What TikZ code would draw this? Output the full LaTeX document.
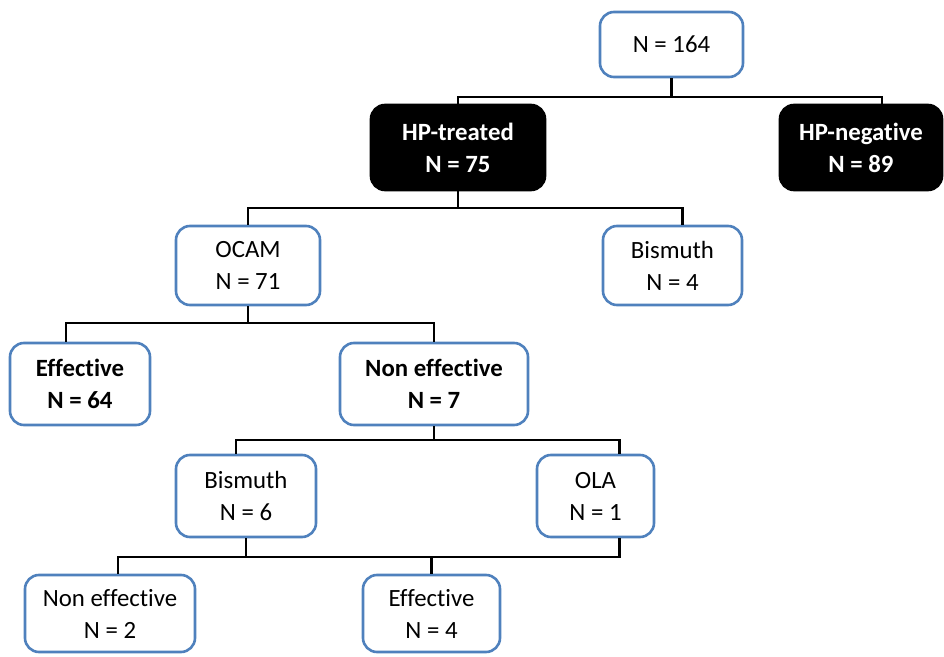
\documentclass[tikz,border=0pt]{standalone}
\usepackage{fontspec}
\setmainfont{Carlito}[Ligatures=NoCommon]
\definecolor{cframe}{RGB}{79,129,189}
\tikzset{
  flow/.style={x=0.5pt,y=-0.5pt,font=\fontsize{12.4}{16}\selectfont},
  cbox/.style={draw=cframe,fill=white,line width=1.3pt,rounded corners=7pt,
    align=center,inner sep=0pt},
  hbox/.style={draw=black,fill=black,text=white,line width=1.3pt,rounded corners=7pt,
    align=center,inner sep=0pt,font=\fontsize{12.4}{16}\selectfont\bfseries},
  link/.style={line width=1.3pt,black}
}

\begin{document}
\begin{tikzpicture}[flow]
    \useasboundingbox (0,0) rectangle (944,657);
    % boxes, one per group
    \node[cbox,minimum width=71.5pt,minimum height=32.5pt] (total) at (671.5,44.5) {N = 164};
    \node[hbox,minimum width=87pt,minimum height=42.5pt] (treated) at (458,147.5) {HP-treated\\N = 75};
    \node[hbox,minimum width=81pt,minimum height=42.5pt] (negative) at (861,147.5) {HP-negative\\N = 89};
    \node[cbox,minimum width=72pt,minimum height=39.5pt] (ocam) at (248,265.5) {OCAM\\N = 71};
    \node[cbox,minimum width=69.5pt,minimum height=39.5pt] (bismA) at (672.5,265.5) {Bismuth\\N = 4};
    \node[cbox,minimum width=70pt,minimum height=41pt,font=\fontsize{12.4}{16}\selectfont\bfseries] (effA) at (80,384) {Effective\\N = 64};
    \node[cbox,minimum width=94pt,minimum height=41pt,font=\fontsize{12.4}{16}\selectfont\bfseries] (noneffA) at (434,384) {Non effective\\N = 7};
    \node[cbox,minimum width=70pt,minimum height=41pt] (bismB) at (246,496) {Bismuth\\N = 6};
    \node[cbox,minimum width=58.5pt,minimum height=41pt] (ola) at (595.5,496) {OLA\\N = 1};
    \node[cbox,minimum width=85pt,minimum height=38.5pt] (noneffB) at (110,613.5) {Non effective\\N = 2};
    \node[cbox,minimum width=68.5pt,minimum height=38.5pt] (effB) at (431.5,613.5) {Effective\\N = 4};
    % junctions on the bars
    \coordinate (barA) at (671.5,97);
    \coordinate (barB) at (458,208);
    \coordinate (barC) at (248,323);
    \coordinate (barD) at (434,440);
    \coordinate (barE) at (431.5,557);
    % connectors
    \begin{scope}[link]
    \draw (total.south) -- (barA);
    \draw (treated.north) |- (barA) -| ([xshift=10.5pt]negative.north);
    \draw (treated.south) -- (barB);
    \draw (ocam.north) |- (barB) -| ([xshift=5pt]bismA.north);
    \draw (ocam.south) -- (barC);
    \draw ([xshift=-7pt]effA.north) |- (barC) -| (noneffA.north);
    \draw (noneffA.south) -- (barD);
    \draw ([xshift=-5pt]bismB.north) |- (barD) -| ([xshift=12pt]ola.north);
    \draw ([xshift=12pt]ola.south) |- (barE);
    \draw (bismB.south) -- (bismB.south |- barE);
    \draw ([xshift=4pt]noneffB.north) |- (barE) -- (effB.north);
    \end{scope}
\end{tikzpicture}
\end{document}
